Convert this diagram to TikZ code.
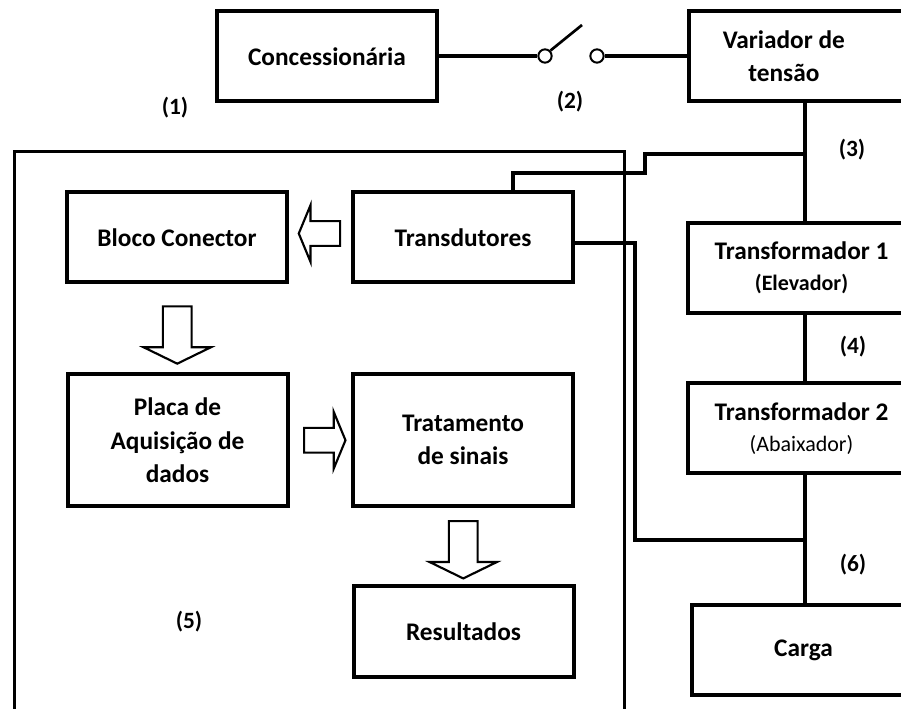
\documentclass[tikz,border=0pt]{standalone}
\usepackage{fontspec}
\setmainfont{Carlito}
\usetikzlibrary{shapes.arrows,calc}

\tikzset{
  box/.style={draw, line width=3pt, minimum width=165pt, minimum height=67.5pt, align=center, font=\fontsize{19}{25}\selectfont\bfseries},
  tallbox/.style={box, minimum height=99pt},
  sidebox/.style={box, minimum width=170pt},
  wire/.style={line width=3pt},
  contact/.style={circle, draw, line width=1.5pt, fill=white, minimum size=10pt, inner sep=0pt},
  hollow/.style={single arrow, draw, line width=1.6pt, inner sep=8.5pt, single arrow head extend=12pt, single arrow tip angle=135, minimum height=31pt},
  bighollow/.style={hollow, inner sep=10pt, single arrow head extend=14.5pt, single arrow tip angle=128, minimum height=43pt},
  tag/.style={font=\fontsize{17.5}{20}\selectfont\bfseries}
}

\begin{document}
\begin{tikzpicture}[x=0.75pt, y=-0.75pt]
  \useasboundingbox (0,0) rectangle (901,709);

  % alimentacao
  \node[box] (conc) at (327,56.5) {Concession\'aria};
  \node[sidebox, label={[font=\fontsize{19}{25}\selectfont\bfseries, align=center, xshift=-14pt]center:Variador de\\tens\~ao}] (var) at (802.5,56.5) {};
  \node[contact] (s1) at (545,56) {};
  \node[contact] (s2) at (597,56) {};
  \draw[wire] (conc.east |- s1) -- (s1.west);
  \draw[wire] (s2.east) -- (var.west |- s2);
  \draw[line width=2pt] (s1.north east) -- (582,25);

  % transformadores e carga
  \node[sidebox] (tr1) at (801.5,268) {Transformador 1\\[-2pt]{\fontsize{16.5}{20}\selectfont(Elevador)}};
  \node[sidebox] (tr2) at (801.5,428.5) {Transformador 2\\[-2pt]{\fontsize{16.5}{20}\selectfont\mdseries(Abaixador)}};
  \node[box, minimum width=167pt] (carga) at (803.5,650) {Carga};
  \coordinate (bus) at (805,0);
  \draw[wire] (var.south -| bus) -- (tr1.north -| bus);
  \draw[wire] (tr1.south -| bus) -- (tr2.north -| bus);
  \draw[wire] (tr2.south -| bus) -- (carga.north -| bus);

  % sistema de medicao
  \draw[line width=2.25pt] (14,730) |- (624,152) -- (624,730);
  \node[box] (trans) at (463,237.5) {Transdutores};
  \node[box] (bloco) at (177,237.5) {Bloco Conector};
  \node[tallbox] (placa) at (177.5,440.5) {Placa de\\Aquisi\c{c}\~ao de\\dados};
  \node[tallbox] (trat) at (463,440) {Tratamento\\de sinais};
  \node[box] (result) at (463.5,631.5) {Resultados};

  \coordinate (j3) at (805,154);
  \coordinate (j6) at (805,540);
  \draw[wire] (j3) -| (645,173) -| ([xshift=37.5pt]trans.north);
  \draw[wire] ([yshift=-4pt]trans.east) -| (635,540) -- (j6);

  \node[hollow, shape border rotate=180] (a1) at ($(bloco.east)!0.5!(trans.west)+(2,-4)$) {};
  \node[bighollow, shape border rotate=270] (a2) at ($(bloco.south)!0.5!(placa.north)+(0,3)$) {};
  \node[hollow] (a3) at ($(placa.east)!0.5!(trat.west)+(2,0)$) {};
  \node[bighollow, shape border rotate=270] (a4) at ($(trat.south)!0.5!(result.north)$) {};

  % rotulos
  \node[tag] (t1) at (175,108) {(1)};
  \node[tag] (t2) at (570,102) {(2)};
  \node[tag] (t3) at (852,150) {(3)};
  \node[tag] (t4) at (853,347) {(4)};
  \node[tag] (t5) at (189,622) {(5)};
  \node[tag] (t6) at (853,565) {(6)};
\end{tikzpicture}
\end{document}
